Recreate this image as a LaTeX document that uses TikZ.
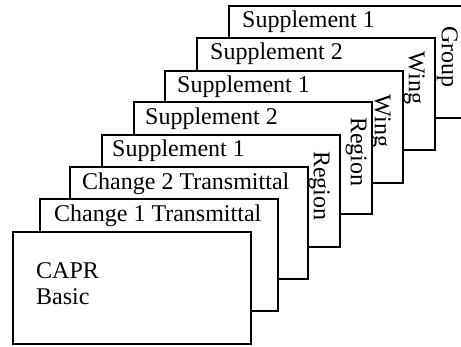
\documentclass[tikz,border=0pt]{standalone}
\usepackage{fontspec}
\setmainfont{Liberation Serif}
\begin{document}
\begin{tikzpicture}[x=1pt,y=-1pt,
  sheet/.style={draw=black, fill=white, line width=1.8pt, anchor=north west, inner sep=0pt, minimum width=238pt, minimum height=112pt},
  title/.style={anchor=base west, inner sep=0pt, font=\fontsize{24}{28}\selectfont},
  side/.style={rotate=-90, anchor=north, inner sep=0pt, font=\fontsize{24}{28}\selectfont}]
\useasboundingbox[fill=white] (0,0) rectangle (461,347);
% back to front
\node[sheet] (s7) at (228,5) {};
\node[title] (t7) at (242,28) {Supplement 1};
\node[side] (l7) at (458,57) {Group};
\node[sheet] (s6) at (196,37) {};
\node[title] (t6) at (210,60) {Supplement 2};
\node[side] (l6) at (425,78) {Wing};
\node[sheet] (s5) at (164,70) {};
\node[title] (t5) at (177,93) {Supplement 1};
\node[side] (l5) at (391,121) {Wing};
\node[sheet] (s4) at (133,101) {};
\node[title] (t4) at (145,125) {Supplement 2};
\node[side] (l4) at (367,152) {Region};
\node[sheet] (s3) at (101,134) {};
\node[title] (t3) at (112,157) {Supplement 1};
\node[side] (l3) at (330,186) {Region};
\node[sheet] (s2) at (69,166) {};
\node[title] (t2) at (82,190) {Change 2 Transmittal};
\node[sheet] (s1) at (39,198) {};
\node[title] (t1) at (54,222) {Change 1 Transmittal};
\node[sheet] (s0) at (12,231) {};
\node[title] (t0a) at (36,279) {CAPR};
\node[title] (t0b) at (36,305) {Basic};
\end{tikzpicture}
\end{document}
